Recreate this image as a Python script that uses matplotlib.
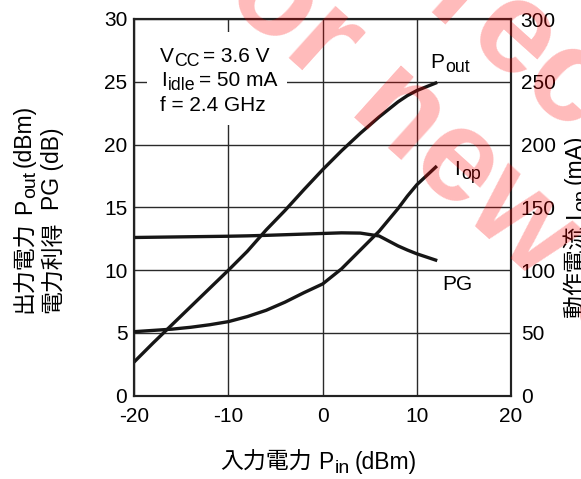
"""Pout / PG / Iop vs Pin characteristic chart."""
import matplotlib

matplotlib.use("Agg")
import matplotlib.pyplot as plt
from matplotlib.patches import Rectangle

plt.rcParams["font.family"] = ["Liberation Sans", "Noto Sans CJK JP"]
plt.rcParams["axes.unicode_minus"] = False

# data
pin = [-20, -18, -16, -14, -12, -10, -8, -6, -4, -2, 0, 2, 4, 6, 8, 9, 10, 11, 12]
pout = [2.7, 4.2, 5.65, 7.1, 8.55, 10.0, 11.5, 13.2, 14.75, 16.4, 18.0, 19.5, 20.9,
        22.2, 23.4, 23.9, 24.3, 24.6, 24.9]
pg = [12.6, 12.62, 12.64, 12.66, 12.68, 12.7, 12.73, 12.77, 12.82, 12.87, 12.92,
      12.97, 12.95, 12.72, 11.93, 11.6, 11.3, 11.05, 10.8]
iop = [51, 52, 53, 54.5, 56.5, 59, 63, 68, 74.5, 82, 89, 101, 116, 131, 149, 159,
       168, 175, 182]

x_ticks = [-20, -10, 0, 10, 20]
left_ticks = [0, 5, 10, 15, 20, 25, 30]
right_ticks = [0, 50, 100, 150, 200, 250, 300]

W, H = 581, 479
fig = plt.figure(figsize=(W / 100, H / 100), dpi=100)


def px(x, y):
    return x / W, 1 - y / H


def chain(x, y, pieces, rotation=0, size=15, **kw):
    """Draw pieces (text, is_subscript, gap_after_px) one after another,
    starting on the baseline at pixel (x, y)."""
    r = fig.canvas.get_renderer()
    for s, sub, gap in pieces:
        fs = size * 0.85 if sub else size
        drop = 4 if sub else 0
        if rotation == 90:
            pos = px(x + drop, y)
        else:
            pos = px(x, y + drop)
        t = fig.text(*pos, s, rotation=rotation, rotation_mode="anchor",
                     ha="left", va="baseline", fontsize=fs, **kw)
        bb = t.get_window_extent(r)
        if rotation == 90:
            y -= bb.height + gap
        else:
            x += bb.width + gap


ax = fig.add_axes([134.3 / W, 1 - 395.7 / H, 376.7 / W, 376.7 / H])
ax.plot(pin, pout, color="#161616", lw=2.4, zorder=3)
ax.plot(pin, pg, color="#161616", lw=2.4, zorder=3)

ax.set_xlim(-20, 20)
ax.set_ylim(0, 30)
ax.set_xticks(x_ticks)
ax.set_yticks(left_ticks)
ax.grid(True, color="#2a2a2a", lw=1.0)
ax.tick_params(length=0, labelsize=15)
ax.tick_params(axis="x", pad=8)
ax.tick_params(axis="y", pad=5)
for sp in ax.spines.values():
    sp.set_linewidth(1.5)
    sp.set_color("#222222")

ax2 = ax.twinx()
ax2.plot(pin, iop, color="#161616", lw=2.4, zorder=3)
ax2.set_ylim(0, 300)
ax2.set_yticks(right_ticks)
ax2.tick_params(length=0, labelsize=15, pad=7)
for sp in ax2.spines.values():
    sp.set_linewidth(1.5)
    sp.set_color("#222222")

# condition box (white background breaks the grid)
ax.add_patch(Rectangle((0.034, 0.719), 0.371, 0.2465, transform=ax.transAxes,
                       facecolor="white", edgecolor="none", zorder=2.5))
chain(160, 62, [("V", False, 0), ("CC", True, 4), ("= 3.6 V", False, 0)])
chain(161, 86, [("I", False, 1), ("idle", True, 4), ("= 50 mA", False, 0)])
chain(160, 111, [("f = 2.4 GHz", False, 0)])

# curve names
chain(430, 68, [("P", False, 1), ("out", True, 0)])
chain(454, 175, [("I", False, 1), ("op", True, 0)])
chain(442, 290, [("PG", False, 0)])

# axis labels
chain(220, 469, [("入力電力", False, 7), ("P", False, 1), ("in", True, 5),
                 ("(dBm)", False, 0)], size=16.5)
chain(31, 313, [("出力電力", False, 7), ("P", False, 1), ("out", True, 4),
                ("(dBm)", False, 0)], rotation=90, size=16.5)
chain(59, 313, [("電力利得", False, 12), ("PG (dB)", False, 0)],
      rotation=90, size=16.5)
chain(582, 317, [("動作電流", False, 7), ("I", False, 1), ("op", True, 5),
                 ("(mA)", False, 0)], rotation=90, size=16.5)

# watermark
wm = dict(rotation=-42, rotation_mode="anchor", va="baseline", fontsize=95,
          fontweight="bold", color="red", alpha=0.27, zorder=10)
fig.text(*px(347, 111), "for ", ha="right", **wm)
fig.text(*px(347, 111), "new designs", ha="left", **wm)
fig.text(*px(463, 40), "Not r", ha="right", **wm)
fig.text(*px(463, 40), "ecommended", ha="left", **wm)

fig.savefig("out.png", dpi=100)
